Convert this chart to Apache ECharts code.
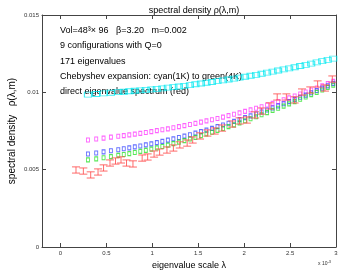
<!DOCTYPE html>
<html><head><meta charset="utf-8">
<script src="https://cdn.jsdelivr.net/npm/echarts@6/dist/echarts.min.js"></script>
<style>html,body{margin:0;padding:0;background:#fff}#c{width:347px;height:272px}</style>
</head><body><div id="c"></div>
<script>
// eigenvalue scale (units of 1e-3)
const lamCheb = [0.30,0.39,0.47,0.55,0.63,0.69,0.75,0.81,0.87,0.93,0.99,1.05,1.11,1.17,1.23,1.29,1.35,1.41,1.47,1.53,1.59,1.65,1.71,1.77,1.83,1.89,1.95,2.01,2.07,2.13,2.19,2.25,2.31,2.37,2.43,2.49,2.55,2.61,2.67,2.73,2.79,2.85,2.91,2.97];
const cyan1K = [0.00985,0.00989,0.00993,0.00997,0.01001,0.01004,0.01007,0.01010,0.01013,0.01016,0.01019,0.01022,0.01026,0.01030,0.01034,0.01038,0.01042,0.01047,0.01052,0.01057,0.01062,0.01067,0.01072,0.01077,0.01083,0.01089,0.01095,0.01101,0.01107,0.01113,0.01120,0.01127,0.01134,0.01141,0.01148,0.01155,0.01162,0.01170,0.01178,0.01186,0.01194,0.01202,0.01210,0.01218];
const magenta2K = [0.00692,0.00698,0.00704,0.00710,0.00716,0.00720,0.00725,0.00730,0.00735,0.00740,0.00746,0.00752,0.00758,0.00764,0.00771,0.00778,0.00785,0.00792,0.00799,0.00807,0.00815,0.00823,0.00831,0.00840,0.00849,0.00858,0.00867,0.00877,0.00887,0.00897,0.00907,0.00918,0.00929,0.00940,0.00952,0.00964,0.00976,0.00989,0.01002,0.01015,0.01028,0.01042,0.01056,0.01071];
const blue3K = [0.00601,0.00608,0.00615,0.00622,0.00629,0.00635,0.00641,0.00647,0.00653,0.00660,0.00667,0.00675,0.00683,0.00691,0.00699,0.00708,0.00717,0.00726,0.00736,0.00746,0.00756,0.00767,0.00778,0.00789,0.00800,0.00812,0.00824,0.00836,0.00848,0.00860,0.00873,0.00886,0.00899,0.00912,0.00926,0.00940,0.00954,0.00968,0.00982,0.00997,0.01012,0.01027,0.01042,0.01058];
const green4K = [0.00563,0.00570,0.00577,0.00584,0.00592,0.00598,0.00604,0.00611,0.00618,0.00625,0.00633,0.00641,0.00650,0.00659,0.00668,0.00678,0.00688,0.00698,0.00709,0.00720,0.00731,0.00742,0.00754,0.00766,0.00778,0.00790,0.00803,0.00816,0.00829,0.00842,0.00855,0.00869,0.00883,0.00897,0.00911,0.00925,0.00940,0.00955,0.00970,0.00985,0.01000,0.01015,0.01031,0.01047];
// direct eigenvalue spectrum
const lamDirect = [0.17,0.25,0.33,0.41,0.47,0.54,0.60,0.66,0.72,0.79,0.89,0.95,1.02,1.08,1.16,1.23,1.30,1.38,1.44,1.52,1.60,1.68,1.76,1.87,1.95,2.03,2.12,2.19,2.28,2.36,2.46,2.55,2.63,2.72,2.80,2.88,2.96];
const rhoDirect = [0.00498,0.00491,0.00466,0.00485,0.00511,0.00543,0.00556,0.00563,0.00543,0.00537,0.00575,0.00582,0.00601,0.00614,0.00627,0.00640,0.00660,0.00672,0.00692,0.00718,0.00737,0.00750,0.00769,0.00795,0.00815,0.00821,0.00854,0.00879,0.00912,0.00970,0.00970,0.00951,0.01002,0.01015,0.01054,0.01028,0.01086];
const errDirect = [0.00020,0.00020,0.00020,0.00020,0.00020,0.00020,0.00020,0.00020,0.00020,0.00020,0.00020,0.00020,0.00020,0.00020,0.00020,0.00020,0.00020,0.00020,0.00020,0.00020,0.00020,0.00020,0.00020,0.00020,0.00020,0.00020,0.00020,0.00020,0.00020,0.00020,0.00020,0.00020,0.00020,0.00020,0.00020,0.00020,0.00020];
const xTicks = [0,0.5,1,1.5,2,2.5,3];
const yTicks = [0,0.005,0.01,0.015];
const infoLines = ['Vol=48³× 96   β=3.20   m=0.002','9 configurations with Q=0','171 eigenvalues','Chebyshev expansion: cyan(1K) to green(4K)','direct eigenvalue spectrum (red)'];

const FONT = '"Liberation Sans", Arial, sans-serif';
const axisCol = '#444';
function chebSeries(vals, color, size) {
  return {type:'scatter', data: lamCheb.map((l,i)=>[l, vals[i]]), symbol:'rect', symbolSize:size,
    itemStyle:{color:'rgba(0,0,0,0)', borderColor:color, borderWidth:1, opacity:0.75}, silent:true, z:2};
}
const chart = echarts.init(document.getElementById('c'), null, {renderer:'canvas'});
const xBase = {min:-0.2, max:3, splitLine:{show:false},
  axisLine:{show:true, onZero:false, lineStyle:{color:axisCol, width:1}},
  axisTick:{show:true, inside:true, length:4, customValues:xTicks, lineStyle:{color:axisCol}}};
const yBase = {min:0, max:0.015, interval:0.005, splitLine:{show:false},
  axisLine:{show:true, onZero:false, lineStyle:{color:axisCol, width:1}},
  axisTick:{show:true, inside:true, length:4, lineStyle:{color:axisCol}}};
chart.setOption({
  animation:false,
  backgroundColor:'#fff',
  textStyle:{fontFamily:FONT},
  title:{text:'spectral density ρ(λ,m)', left:189, top:1, textAlign:'center',
    textStyle:{fontSize:9, fontWeight:'normal', color:'#000', fontFamily:FONT}},
  grid:{left:42, right:11, top:15, bottom:25, containLabel:false, outerBoundsMode:'none'},
  xAxis:[
    Object.assign({}, xBase, {type:'value', position:'bottom', name:'eigenvalue scale λ', nameLocation:'middle', nameGap:14,
      nameTextStyle:{fontSize:9, color:'#000', fontFamily:FONT},
      axisLabel:{show:true, customValues:xTicks, fontSize:6, color:'#333', margin:3, fontFamily:FONT, formatter:v=>String(v)}}),
    Object.assign({}, xBase, {type:'value', position:'top', axisLabel:{show:false}})
  ],
  yAxis:[
    Object.assign({}, yBase, {type:'value', position:'left', name:'spectral density   ρ(λ,m)', nameLocation:'middle', nameGap:25, nameMoveOverlap:false,
      nameTextStyle:{fontSize:10, color:'#000', fontFamily:FONT},
      axisLabel:{show:true, fontSize:6, color:'#333', margin:3, fontFamily:FONT, formatter:v=>String(+v.toFixed(4))}}),
    Object.assign({}, yBase, {type:'value', position:'right', axisLabel:{show:false}})
  ],
  graphic: infoLines.map((t,i)=>({type:'text', left:60, top:26 + i*15.3, style:{text:t, font:'9px '+FONT, fill:'#000'}}))
    .concat([{type:'text', left:318, top:260, style:{text:'x 10{s|-3}', rich:{s:{fontSize:4, verticalAlign:'top', padding:[0,0,4,0]}}, font:'5px '+FONT, fill:'#333'}}]),
  series:[
    chebSeries(cyan1K, '#00e8f0', [7,5]),
    chebSeries(magenta2K, '#ff30ff', [3,4]),
    chebSeries(blue3K, '#3040ff', [3,4]),
    chebSeries(green4K, '#20e020', [3,4]),
    {type:'custom', z:3, silent:true,
      data: lamDirect.map((l,i)=>[l, rhoDirect[i], errDirect[i]]),
      encode:{x:0, y:1},
      renderItem:function(params, api){
        const x = api.value(0), y = api.value(1), e = api.value(2);
        const t = api.coord([x, y+e]), b = api.coord([x, y-e]);
        const hw = 4, st = {stroke:'#ff5050', lineWidth:1, opacity:0.85};
        return {type:'group', children:[
          {type:'line', shape:{x1:t[0], y1:t[1], x2:b[0], y2:b[1]}, style:st},
          {type:'line', shape:{x1:t[0]-hw, y1:t[1], x2:t[0]+hw, y2:t[1]}, style:st},
          {type:'line', shape:{x1:b[0]-hw, y1:b[1], x2:b[0]+hw, y2:b[1]}, style:st}
        ]};
      }}
  ]
});
</script></body></html>
